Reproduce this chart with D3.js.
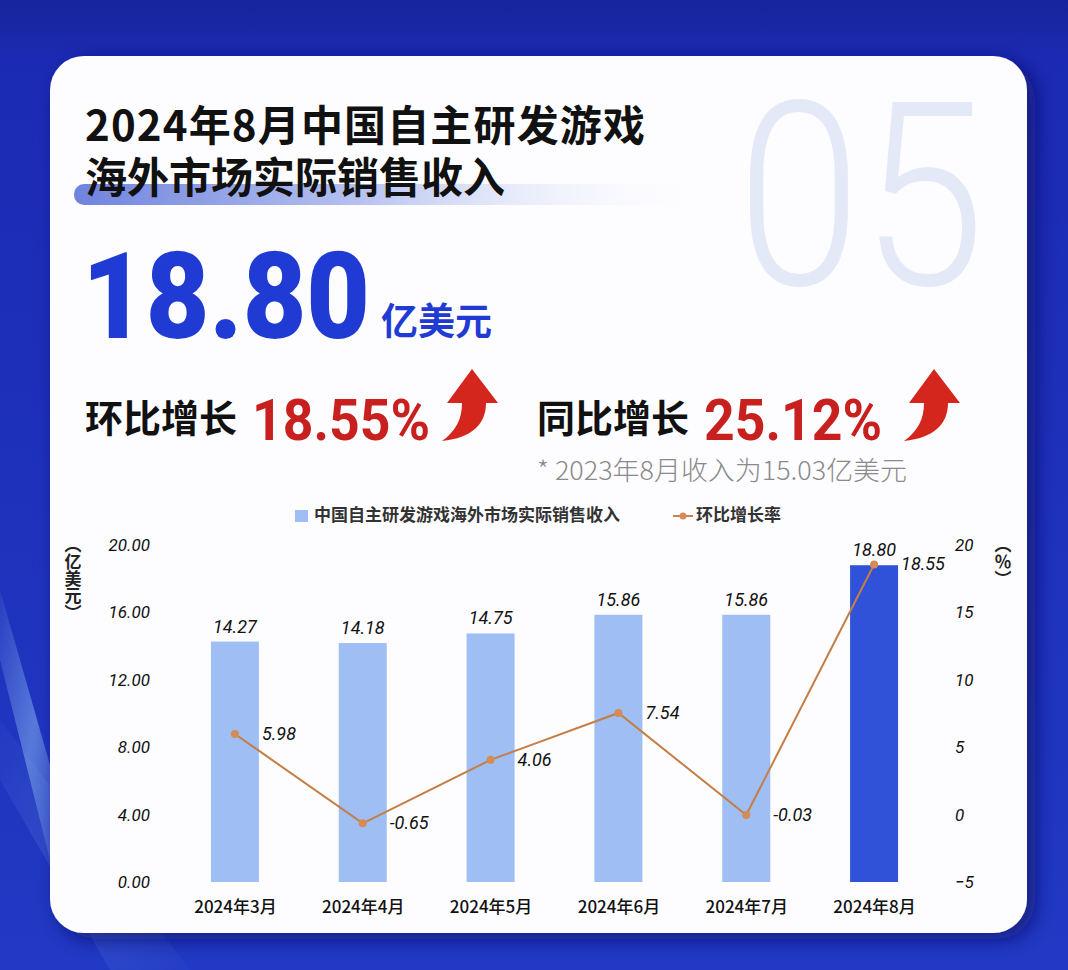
<!DOCTYPE html>
<html>
<head>
<meta charset="utf-8">
<script src="https://cdn.jsdelivr.net/npm/d3@7"></script>
<style>
  body { margin: 0; background: #1c2db8; }
  svg { display: block; }
</style>
</head>
<body>
<div id="chart"></div>
<script>
// values
var months = ["2024年3月", "2024年4月", "2024年5月", "2024年6月", "2024年7月", "2024年8月"];
var revenue = [14.27, 14.18, 14.75, 15.86, 15.86, 18.80];
var momRate = [5.98, -0.65, 4.06, 7.54, -0.03, 18.55];
var leftTicks = [0, 4, 8, 12, 16, 20];
var rightTicks = [-5, 0, 5, 10, 15, 20];
var titleLines = ["2024年8月中国自主研发游戏", "海外市场实际销售收入"];
var headline = { value: "18.80", unit: "亿美元" };
var growth = [
    { label: "环比增长", value: "18.55%" },
    { label: "同比增长", value: "25.12%" }
];
var footnote = "* 2023年8月收入为15.03亿美元";
var legendNames = ["中国自主研发游戏海外市场实际销售收入", "环比增长率"];

var width = 1068;
var height = 970;
var cjk = '"Noto Sans CJK SC", "Noto Sans", sans-serif';
var num = 'Roboto, "Noto Sans", sans-serif';

var svg = d3.select('#chart')
  .append('svg')
    .attr('width', width)
    .attr('height', height)
    .attr('viewBox', [0, 0, width, height]);

var defs = svg.append('defs');

var bg = defs.append('linearGradient').attr('id', 'bg')
    .attr('x1', 0).attr('y1', 0).attr('x2', 0).attr('y2', 1);
bg.append('stop').attr('offset', 0).attr('stop-color', '#18249a');
bg.append('stop').attr('offset', 0.06).attr('stop-color', '#1b2ab3');
bg.append('stop').attr('offset', 1).attr('stop-color', '#2139c4');

var swoosh = defs.append('linearGradient').attr('id', 'swoosh')
    .attr('x1', 0).attr('y1', 0).attr('x2', 1).attr('y2', 1);
swoosh.append('stop').attr('offset', 0).attr('stop-color', '#7ea6ec').attr('stop-opacity', 0.1);
swoosh.append('stop').attr('offset', 0.5).attr('stop-color', '#7ea6ec').attr('stop-opacity', 0.6);
swoosh.append('stop').attr('offset', 1).attr('stop-color', '#7ea6ec').attr('stop-opacity', 0.1);

var hl = defs.append('linearGradient').attr('id', 'hl')
    .attr('x1', 0).attr('y1', 0).attr('x2', 1).attr('y2', 0);
hl.append('stop').attr('offset', 0).attr('stop-color', '#6f83de');
hl.append('stop').attr('offset', 0.45).attr('stop-color', '#b7c2f0');
hl.append('stop').attr('offset', 1).attr('stop-color', '#ffffff').attr('stop-opacity', 0);

var shadow = defs.append('filter').attr('id', 'shadow')
    .attr('x', -0.1).attr('y', -0.1).attr('width', 1.2).attr('height', 1.2);
shadow.append('feDropShadow')
    .attr('dx', 8).attr('dy', 6).attr('stdDeviation', 10)
    .attr('flood-color', '#0b1460').attr('flood-opacity', 0.7);

// background
svg.append('rect').attr('width', width).attr('height', height).attr('fill', 'url(#bg)');
svg.append('path')
    .attr('d', 'M0,590 L0,660 L60,900 L60,800 Z')
    .attr('fill', 'url(#swoosh)');
svg.append('path')
    .attr('d', 'M0,720 L0,780 L110,970 L190,970 Z')
    .attr('fill', 'url(#swoosh)')
    .attr('opacity', 0.35);

// card
svg.append('rect')
    .attr('x', 50).attr('y', 56)
    .attr('width', 977).attr('height', 877)
    .attr('rx', 34)
    .attr('fill', '#fdfdff')
    .attr('filter', 'url(#shadow)');

// big faint page number
svg.append('text')
    .attr('x', 737).attr('y', 285)
    .attr('textLength', 248)
    .attr('lengthAdjust', 'spacingAndGlyphs')
    .attr('font-family', num)
    .attr('font-weight', 300)
    .attr('font-size', 256)
    .attr('fill', '#e4e9f7')
    .text('05');

// title
svg.append('rect')
    .attr('x', 74).attr('y', 184)
    .attr('width', 640).attr('height', 21)
    .attr('rx', 10)
    .attr('fill', 'url(#hl)');

svg.append('g')
  .selectAll('text')
  .data(titleLines)
  .enter()
  .append('text')
    .attr('x', 85)
    .attr('y', (d, i) => 141 + i * 52)
    .attr('textLength', (d, i) => i === 0 ? 560 : null)
    .attr('font-family', cjk)
    .attr('font-weight', 700)
    .attr('font-size', 42)
    .attr('fill', '#111')
    .text(d => d);

// headline number
svg.append('text')
    .attr('x', 82).attr('y', 338)
    .attr('textLength', 288)
    .attr('lengthAdjust', 'spacingAndGlyphs')
    .attr('font-family', num)
    .attr('font-weight', 900)
    .attr('font-size', 120)
    .attr('fill', '#1f3bd3')
    .text(headline.value);

svg.append('text')
    .attr('x', 381).attr('y', 335)
    .attr('font-family', cjk)
    .attr('font-weight', 700)
    .attr('font-size', 37)
    .attr('fill', '#1f3bd3')
    .text(headline.unit);

// growth rows
function arrow(g, x, y) {
    g.append('path')
        .attr('transform', `translate(${x},${y})`)
        .attr('d', 'M30,0 L56,34 L44,34 C44,55 30,69 0,72 C14,62 20,50 20,34 L5,34 Z')
        .attr('fill', '#d4261c');
}

var growthX = [85, 537];
var gr = svg.append('g');
growth.forEach((d, i) => {
    var x0 = growthX[i];
    gr.append('text')
        .attr('x', x0).attr('y', 432)
        .attr('font-family', cjk)
        .attr('font-weight', 700)
        .attr('font-size', 38)
        .attr('fill', '#111')
        .text(d.label);
    gr.append('text')
        .attr('x', x0 + 167).attr('y', 440)
        .attr('textLength', 178)
        .attr('lengthAdjust', 'spacingAndGlyphs')
        .attr('font-family', num)
        .attr('font-weight', 700)
        .attr('font-size', 58)
        .attr('fill', '#c8201f')
        .text(d.value);
    arrow(gr, x0 + 357 + i * 10, 369);
});

svg.append('text')
    .attr('x', 537).attr('y', 480)
    .attr('textLength', 370)
    .attr('lengthAdjust', 'spacingAndGlyphs')
    .attr('font-family', cjk)
    .attr('font-weight', 300)
    .attr('font-size', 26)
    .attr('fill', '#8a8a8a')
    .text(footnote);

// legend
var legend = svg.append('g').attr('font-family', cjk).attr('font-size', 17)
    .attr('font-weight', 700).attr('fill', '#333');
legend.append('rect')
    .attr('x', 295).attr('y', 510).attr('width', 13).attr('height', 12)
    .attr('fill', '#9ebef4');
legend.append('text')
    .attr('x', 314).attr('y', 516)
    .attr('dominant-baseline', 'middle')
    .text(legendNames[0]);
legend.append('line')
    .attr('x1', 673).attr('x2', 693).attr('y1', 516).attr('y2', 516)
    .attr('stroke', '#c9834c').attr('stroke-width', 2);
legend.append('circle')
    .attr('cx', 683).attr('cy', 516).attr('r', 3.5)
    .attr('fill', '#d68a56');
legend.append('text')
    .attr('x', 696).attr('y', 516)
    .attr('dominant-baseline', 'middle')
    .text(legendNames[1]);

// chart
var x = d3.scalePoint()
    .domain(months)
    .range([171, 938])
    .padding(0.5);

var yLeft = d3.scaleLinear()
    .domain([0, 20])
    .range([882, 545]);

var yRight = d3.scaleLinear()
    .domain([-5, 20])
    .range([882, 545]);

var barW = 48;
var rows = months.map((m, i) => ({ month: m, revenue: revenue[i], rate: momRate[i], last: i === months.length - 1 }));

var chart = svg.append('g');

var leftAxis = chart.append('g')
    .attr('transform', 'translate(150,0)')
    .call(d3.axisLeft(yLeft).tickValues(leftTicks).tickFormat(d3.format('.2f')).tickSize(0).tickPadding(0));
leftAxis.select('.domain').remove();
leftAxis.selectAll('text')
    .attr('font-family', num)
    .attr('font-style', 'italic')
    .attr('font-size', 17)
    .attr('fill', '#111');

var rightAxis = chart.append('g')
    .attr('transform', 'translate(955,0)')
    .call(d3.axisRight(yRight).tickValues(rightTicks).tickSize(0).tickPadding(0));
rightAxis.select('.domain').remove();
rightAxis.selectAll('text')
    .attr('font-family', num)
    .attr('font-style', 'italic')
    .attr('font-size', 17)
    .attr('fill', '#111');

var bottomAxis = chart.append('g')
    .attr('transform', 'translate(0,882)')
    .call(d3.axisBottom(x).tickSize(0).tickPadding(19));
bottomAxis.select('.domain').remove();
bottomAxis.selectAll('text')
    .attr('font-family', cjk)
    .attr('font-weight', 500)
    .attr('font-size', 17)
    .attr('fill', '#111');

// unit labels
chart.append('text')
    .attr('x', 73).attr('y', 536)
    .attr('font-family', cjk)
    .attr('font-weight', 700)
    .attr('font-size', 17)
    .attr('fill', '#222')
    .style('writing-mode', 'vertical-rl')
    .text('（亿美元）');

chart.append('text')
    .attr('x', 1003).attr('y', 536)
    .attr('font-family', cjk)
    .attr('font-weight', 700)
    .attr('font-size', 17)
    .attr('fill', '#222')
    .style('writing-mode', 'vertical-rl')
    .text('（％）');

chart.append('g')
  .selectAll('rect')
  .data(rows)
  .enter()
  .append('rect')
    .attr('x', d => x(d.month) - barW / 2)
    .attr('y', d => yLeft(d.revenue))
    .attr('width', barW)
    .attr('height', d => yLeft(0) - yLeft(d.revenue))
    .attr('fill', d => d.last ? '#3052d8' : '#9ebef4');

chart.append('g')
  .selectAll('text')
  .data(rows)
  .enter()
  .append('text')
    .attr('x', d => x(d.month))
    .attr('y', d => yLeft(d.revenue) - 9)
    .attr('text-anchor', 'middle')
    .attr('font-family', num)
    .attr('font-style', 'italic')
    .attr('font-size', 18)
    .attr('fill', '#111')
    .text(d => d.revenue.toFixed(2));

var line = d3.line()
    .x(d => x(d.month))
    .y(d => yRight(d.rate));

chart.append('path')
    .datum(rows)
    .attr('d', line)
    .attr('fill', 'none')
    .attr('stroke', '#c47e45')
    .attr('stroke-width', 2);

chart.append('g')
  .selectAll('circle')
  .data(rows)
  .enter()
  .append('circle')
    .attr('cx', d => x(d.month))
    .attr('cy', d => yRight(d.rate))
    .attr('r', 4)
    .attr('fill', '#d68a56');

chart.append('g')
  .selectAll('text')
  .data(rows)
  .enter()
  .append('text')
    .attr('x', d => x(d.month) + 27)
    .attr('y', d => yRight(d.rate) + 1)
    .attr('dominant-baseline', 'middle')
    .attr('font-family', num)
    .attr('font-style', 'italic')
    .attr('font-size', 18)
    .attr('fill', '#111')
    .text(d => d.rate.toFixed(2));
</script>
</body>
</html>
